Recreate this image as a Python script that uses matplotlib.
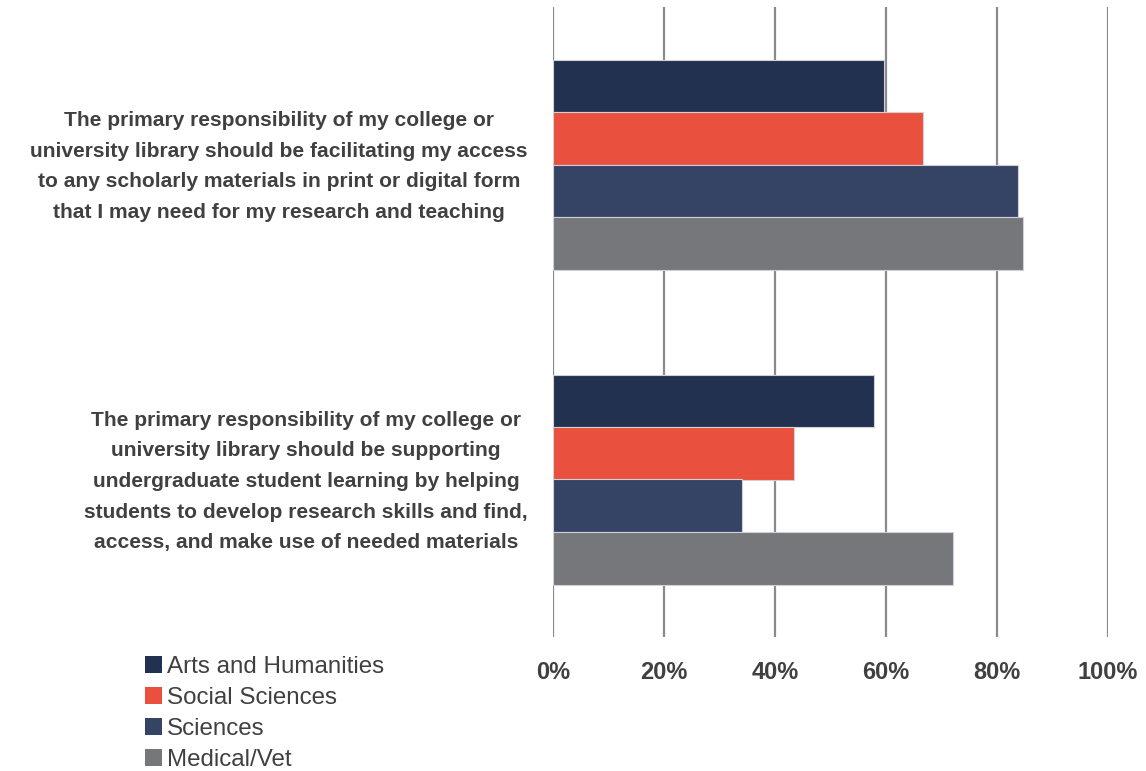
import numpy as np
import matplotlib
matplotlib.use("Agg")
import matplotlib.pyplot as plt
import matplotlib.transforms as mtransforms
from matplotlib.patches import Patch

plt.rcParams['font.family'] = ['Liberation Sans Narrow', 'Liberation Sans', 'DejaVu Sans']

statements = [
    "The primary responsibility of my college or\n"
    "university library should be facilitating my access\n"
    "to any scholarly materials in print or digital form\n"
    "that I may need for my research and teaching",
    "The primary responsibility of my college or\n"
    "university library should be supporting\n"
    "undergraduate student learning by helping\n"
    "students to develop research skills and find,\n"
    "access, and make use of needed materials",
]
fields = ["Arts and Humanities", "Social Sciences", "Sciences", "Medical/Vet"]

# share agreeing, in percent, per field
arts = [59.6, 57.9]
social = [66.7, 43.4]
sciences = [83.7, 34.1]
medical = [84.7, 72.1]
tick_labels = ["0%", "20%", "40%", "60%", "80%", "100%"]

colors = ["#233150", "#E9503E", "#354365", "#76777B"]
text_col = "#404040"

fig = plt.figure(figsize=(11.46, 7.71), dpi=100)
ax = fig.add_axes([553 / 1146, 1 - 637 / 771, (1108 - 553) / 1146, 630 / 771])

y = np.arange(len(statements))
h = 1 / 6
series = [arts, social, sciences, medical]
for i, (vals, col, name) in enumerate(zip(series, colors, fields)):
    ax.barh(y + (i - 1.5) * h, vals, height=h, color=col, label=name,
            edgecolor="#d0d0d8", linewidth=0.8, zorder=3)

ax.set_ylim(-0.5, len(statements) - 0.5)
ax.invert_yaxis()
ax.set_xlim(0, 100)
ax.set_xticks(np.arange(0, 101, 20))
ax.set_xticklabels(tick_labels, fontsize=17, fontweight="bold", color=text_col)
ax.set_yticks([])

# statement labels as text, so the line spacing can be set
trans = mtransforms.blended_transform_factory(ax.transAxes, ax.transData)
trans = trans + mtransforms.ScaledTranslation(-25 / 100, -2 / 100, fig.dpi_scale_trans)
for yi, s in zip(y, statements):
    ax.text(0, yi, s, transform=trans, ha="right", va="center", multialignment="center",
            fontsize=15.1, fontweight="bold", color=text_col, linespacing=1.77)

ax.tick_params(axis="both", length=0)
ax.tick_params(axis="x", pad=17)
ax.grid(axis="x", color="#8a8a8e", linewidth=1.6, zorder=0)
for s in ax.spines.values():
    s.set_visible(False)

handles = [Patch(facecolor=c, label=n) for c, n in zip(colors, fields)]
leg = fig.legend(handles=handles, loc="upper left", bbox_to_anchor=(145 / 1146, 1 - 656 / 771),
                 frameon=False, fontsize=17.4, handlelength=0.7, handleheight=0.7,
                 handletextpad=0.2, labelspacing=0.37, borderpad=0, borderaxespad=0)
for t in leg.get_texts():
    t.set_color(text_col)

fig.savefig("out.png", dpi=100)
